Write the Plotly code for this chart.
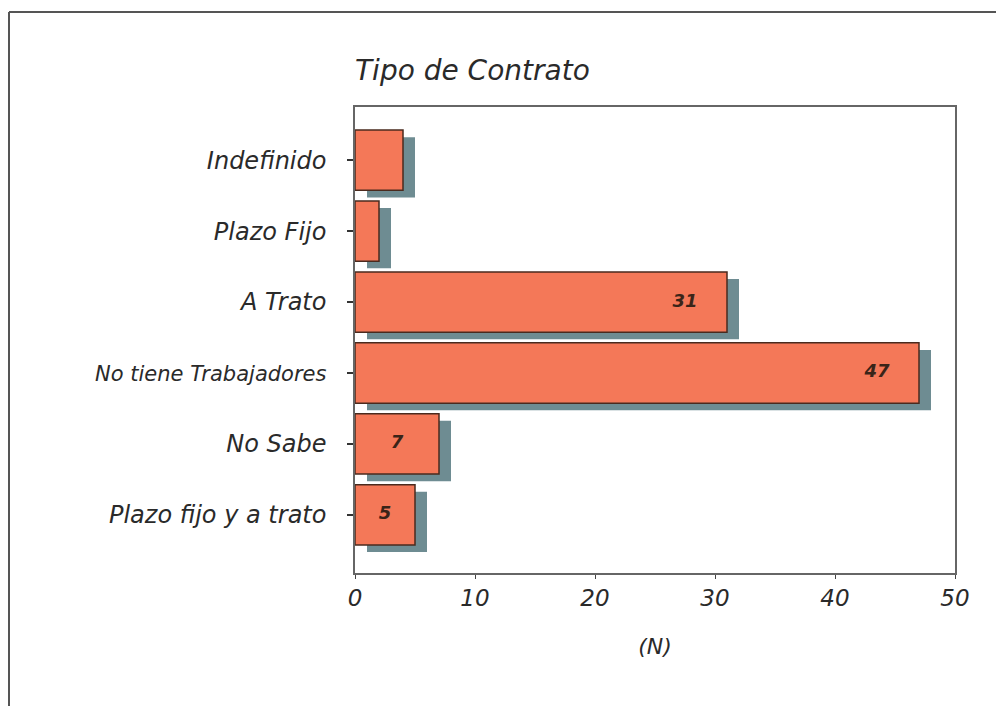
import plotly.graph_objects as go

# datos
categorias = ["Indefinido", "Plazo Fijo", "A Trato", "No tiene Trabajadores",
              "No Sabe", "Plazo fijo y a trato"]
etiquetas = ["Indefinido", "Plazo Fijo", "A Trato",
             "<span style='font-size:21px'>No tiene Trabajadores</span>",
             "No Sabe", "Plazo fijo y a trato"]
valores = [4, 2, 31, 47, 7, 5]
x_ticks = [0, 10, 20, 30, 40, 50]

BAR_COLOR = "#F47858"
EDGE_COLOR = "#4A2A1E"
SHADOW_COLOR = "#6E8C92"
FONT = "DejaVu Sans"
TXT = "#2A2A2A"

pos = list(range(len(categorias)))
SHX, SHY = 1.0, 0.1  # desplazamiento de la sombra (en unidades de datos)

fig = go.Figure()
# sombra
fig.add_trace(go.Bar(
    y=[p + SHY for p in pos], x=valores, base=[SHX] * len(valores),
    orientation="h", width=0.85, marker=dict(color=SHADOW_COLOR, line=dict(width=0)),
    hoverinfo="skip", showlegend=False,
))
# barras
fig.add_trace(go.Bar(
    y=pos, x=valores, orientation="h", width=0.85,
    marker=dict(color=BAR_COLOR, line=dict(color=EDGE_COLOR, width=1.5)),
    showlegend=False,
))
# etiquetas de valor (solo barras con espacio)
lab_y = [p for p, v in zip(pos, valores) if v >= 5]
lab_v = [v for v in valores if v >= 5]
fig.add_trace(go.Scatter(
    y=lab_y, x=[max(v - 3.5, v / 2) for v in lab_v],
    mode="text", text=[str(v) for v in lab_v],
    textfont=dict(family=FONT, size=18, color="#3A2418", weight="bold", style="italic"),
    hoverinfo="skip", showlegend=False,
))

# el <body> de la página tiene 8px de margen: se compensa aquí
fig.update_layout(
    width=996, height=698,
    margin=dict(l=347, r=49, t=99, b=133),
    plot_bgcolor="white", paper_bgcolor="white",
    barmode="overlay",
    title=dict(text="Tipo de Contrato", x=0, xref="paper", xanchor="left",
               y=1 - 62 / 698, yref="container", yanchor="middle",
               font=dict(family=FONT, size=28, color=TXT, style="italic")),
    font=dict(family=FONT, color=TXT),
    xaxis=dict(range=[0, 50], tickvals=x_ticks, showgrid=False, zeroline=False,
               showline=True, linecolor="#666666", linewidth=1.5, mirror=True,
               ticks="outside", ticklen=4, tickcolor="#444444",
               tickfont=dict(family=FONT, size=23, style="italic", color=TXT),
               title=dict(text="(N)", standoff=28,
                          font=dict(family=FONT, size=22, style="italic", color=TXT))),
    yaxis=dict(range=[5.82, -0.75], tickvals=pos, ticktext=etiquetas,
               showgrid=False, zeroline=False,
               showline=True, linecolor="#666666", linewidth=1.5, mirror=True,
               ticks="outside", ticklen=6, tickwidth=2, tickcolor="#333333",
               ticklabelstandoff=16,
               tickfont=dict(family=FONT, size=24, style="italic", color=TXT)),
    shapes=[
        dict(type="line", xref="paper", yref="paper",
             x0=(1 - 347) / 600, x1=(1010 - 347) / 600,
             y0=1 + (99 - 4) / 466, y1=1 + (99 - 4) / 466,
             line=dict(color="#555555", width=2)),
        dict(type="line", xref="paper", yref="paper",
             x0=(1 - 347) / 600, x1=(1 - 347) / 600,
             y0=1 + (99 - 4) / 466, y1=-(720 - 565) / 466,
             line=dict(color="#555555", width=2)),
    ],
)

fig.write_html("out.html")
